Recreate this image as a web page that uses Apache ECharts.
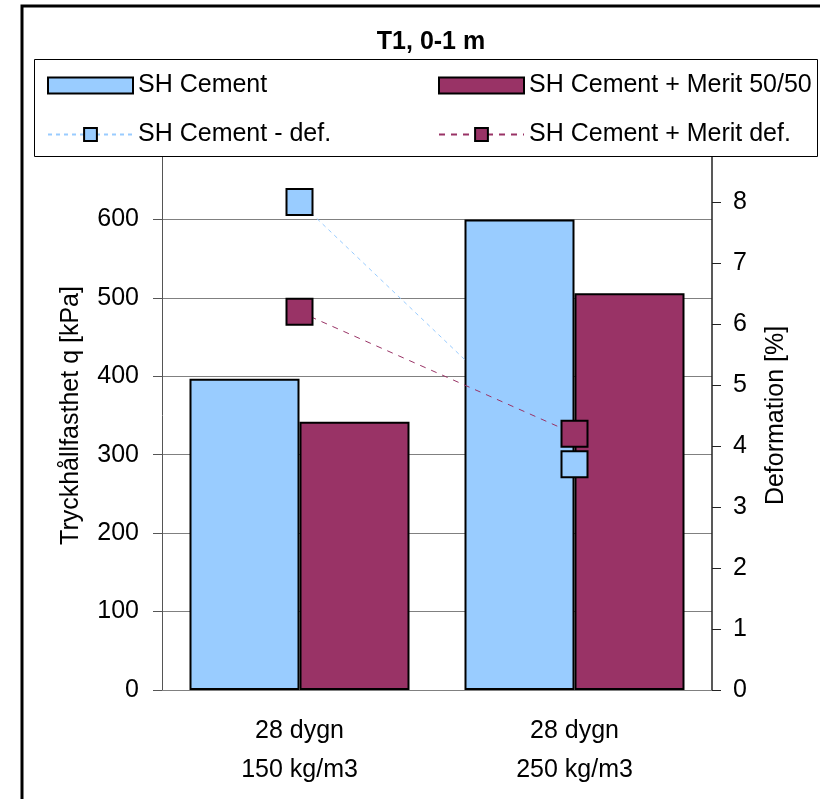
<!DOCTYPE html>
<html>
<head>
<meta charset="utf-8">
<script src="https://cdn.jsdelivr.net/npm/echarts@6/dist/echarts.min.js"></script>
<style>
html,body{margin:0;padding:0;background:#fff;}
#main{width:820px;height:799px;}
</style>
</head>
<body>
<div id="main"></div>
<script>
// data
var categories = ['28 dygn\n150 kg/m3', '28 dygn\n250 kg/m3'];
var cementStrength = [397, 600];
var meritStrength = [342, 506];
var cementDef = [8.0, 3.7];
var meritDef = [6.2, 4.2];

var FONT = 'Liberation Sans, Arial, sans-serif';
var BLUE = '#99CCFF';
var RED = '#993366';

var myChart = echarts.init(document.getElementById('main'));

var legendText = { fontSize: 25, color: '#000', fontFamily: FONT };

var option = {
    backgroundColor: '#fff',
    animation: false,
    textStyle: { fontFamily: FONT, color: '#000' },
    title: {
        text: 'T1, 0-1 m',
        left: 426,
        top: 25,
        textAlign: 'center',
        textStyle: { fontSize: 25, fontWeight: 'bold', color: '#000', fontFamily: FONT }
    },
    graphic: [
        // outer frame
        { type: 'rect', z: 1, shape: { x: 22, y: 6, width: 900, height: 900 },
          style: { fill: null, stroke: '#000', lineWidth: 3 } },
        // legend box
        { type: 'rect', z: 10, shape: { x: 34.5, y: 59.5, width: 783, height: 97 },
          style: { fill: '#fff', stroke: '#000', lineWidth: 1 } }
    ],
    legend: [{
        z: 20,
        orient: 'vertical',
        left: 42,
        top: 68,
        itemWidth: 85,
        itemHeight: 16,
        itemGap: 24,
        textStyle: legendText,
        data: [{ name: 'SH Cement', icon: 'rect' }, 'SH Cement - def.']
    }, {
        z: 20,
        orient: 'vertical',
        left: 433,
        top: 68,
        itemWidth: 85,
        itemHeight: 16,
        itemGap: 24,
        textStyle: legendText,
        data: [{ name: 'SH Cement + Merit 50/50', icon: 'rect' }, 'SH Cement + Merit def.']
    }],
    grid: { left: 162, right: 108, top: 141, bottom: 109 },
    xAxis: {
        type: 'category',
        data: categories,
        axisLine: { lineStyle: { color: '#808080', width: 1 } },
        axisTick: { length: 9, lineStyle: { color: '#808080' } },
        axisLabel: { fontSize: 25, lineHeight: 39, margin: 22, color: '#000', fontFamily: FONT }
    },
    yAxis: [{
        type: 'value',
        min: 0,
        max: 700,
        interval: 100,
        name: 'Tryckhållfasthet q [kPa]',
        nameLocation: 'middle',
        nameGap: 78,
        nameTextStyle: { fontSize: 25, color: '#000', fontFamily: FONT },
        axisLine: { show: true, lineStyle: { color: '#555', width: 1 } },
        axisTick: { show: true, length: 9, lineStyle: { color: '#555' } },
        axisLabel: { fontSize: 25, margin: 23, color: '#000', fontFamily: FONT },
        splitLine: { show: true, lineStyle: { color: '#808080', width: 1 } }
    }, {
        type: 'value',
        min: 0,
        max: 9,
        interval: 1,
        position: 'right',
        name: 'Deformation [%]',
        nameLocation: 'middle',
        nameGap: 52,
        nameTextStyle: { fontSize: 25, color: '#000', fontFamily: FONT },
        axisLine: { show: true, lineStyle: { color: '#222', width: 1.5 } },
        axisTick: { show: true, length: 9, lineStyle: { color: '#222' } },
        axisLabel: { fontSize: 25, margin: 21, color: '#000', fontFamily: FONT },
        splitLine: { show: false }
    }],
    series: [{
        name: 'SH Cement',
        type: 'bar',
        data: cementStrength,
        barGap: '0%',
        barCategoryGap: '20%',
        itemStyle: { color: BLUE, borderColor: '#000', borderWidth: 2 }
    }, {
        name: 'SH Cement + Merit 50/50',
        type: 'bar',
        data: meritStrength,
        itemStyle: { color: RED, borderColor: '#000', borderWidth: 2 }
    }, {
        name: 'SH Cement - def.',
        type: 'line',
        yAxisIndex: 1,
        data: cementDef,
        symbol: 'rect',
        symbolSize: 26,
        z: 5,
        lineStyle: { color: BLUE, width: 1, type: [4, 4] },
        itemStyle: { color: BLUE, borderColor: '#000', borderWidth: 2 }
    }, {
        name: 'SH Cement + Merit def.',
        type: 'line',
        yAxisIndex: 1,
        data: meritDef,
        symbol: 'rect',
        symbolSize: 26,
        z: 5,
        lineStyle: { color: RED, width: 1, type: [6, 6] },
        itemStyle: { color: RED, borderColor: '#000', borderWidth: 2 }
    }]
};

myChart.setOption(option);
</script>
</body>
</html>
